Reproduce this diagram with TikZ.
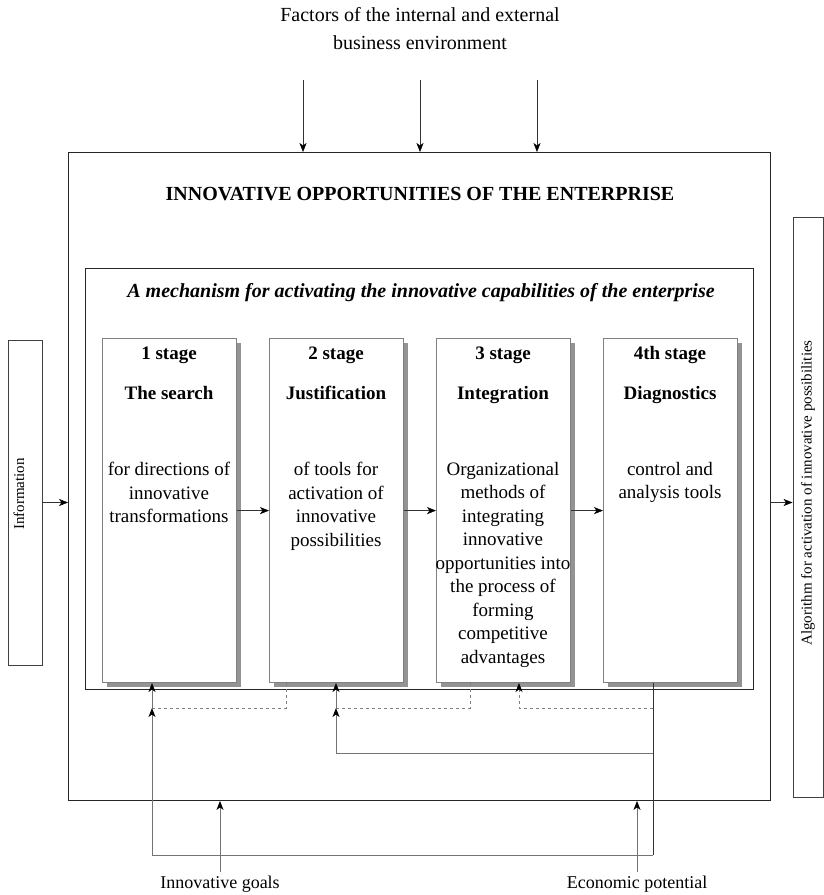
\documentclass[tikz,border=0pt]{standalone}
\usepackage{fontspec}
\setmainfont{Liberation Serif}
\usetikzlibrary{positioning,shadows,arrows.meta}

\begin{document}
\begin{tikzpicture}[x=1pt, y=-1pt, >={Stealth[length=9pt,width=7pt,inset=2.5pt,color=black]}, font=\fontsize{19}{23.5}\selectfont,
  frame/.style={draw=black!85, line width=0.9pt, inner sep=0pt},
  sidebox/.style={draw=black!75, line width=0.9pt, inner sep=0pt},
  stagebox/.style={draw=gray, fill=white, line width=1.2pt, minimum width=134pt, minimum height=344pt,
    anchor=north west, inner sep=0pt, drop shadow={shadow xshift=4.5pt, shadow yshift=-4.5pt, fill=gray!85, opacity=1}},
  link/.style={draw=gray!90!black, line width=1pt},
  feed/.style={draw=gray, dashed, line width=0.9pt}]

\useasboundingbox (0,0) rectangle (824,895);

\node[align=center, font=\fontsize{20}{28}\selectfont] (env) at (420,29) {Factors of the internal and external\\business environment};

\node[frame, minimum width=702pt, minimum height=648pt, anchor=north west] (outer) at (68,152) {};
\node[font=\fontsize{20}{24}\selectfont\bfseries, anchor=base] (title) at (420,200) {INNOVATIVE OPPORTUNITIES OF THE ENTERPRISE};

\foreach \i/\xx in {1/303,2/420,3/537}
  \coordinate (f\i) at (\xx,80);
\foreach \i in {1,2,3}
  \draw[->, black!80] (f\i) -- (f\i |- outer.north);

\node[frame, minimum width=668pt, minimum height=421pt, anchor=north west] (inner) at (85,268) {};
\node[font=\fontsize{20}{24}\selectfont\bfseries\itshape, anchor=base] (mech) at (421,297) {A mechanism for activating the innovative capabilities of the enterprise};

\foreach \i/\xx/\num/\head/\body in {
  1/102/1 stage/The search/{for directions of\\innovative\\transformations},
  2/269/2 stage/Justification/{of tools for\\activation of\\innovative\\possibilities},
  3/436/3 stage/Integration/{Organizational\\methods of\\integrating\\innovative\\opportunities into\\the process of\\forming\\competitive\\advantages},
  4/603/4th stage/Diagnostics/{control and\\analysis tools}}
{
  \node[stagebox] (s\i) at (\xx,338) {};
  \node[font=\fontsize{19}{23.5}\selectfont\bfseries, anchor=base] (n\i) at (\xx+67,359) {\num};
  \node[font=\fontsize{19}{23.5}\selectfont\bfseries, anchor=base] (h\i) at (\xx+67,399) {\head};
  \node[align=center, anchor=north, inner sep=0pt] (b\i) at (\xx+67,462) {\body};
}
\foreach \i/\j in {1/2,2/3,3/4}
  \draw[->, black!80] (s\i.east) -- (s\j.west);

% side boxes
\node[sidebox, minimum width=34pt, minimum height=325pt] (info) at (25,502.5) {};
\node[rotate=90, font=\fontsize{15}{18}\selectfont] (infotext) at (19,494) {Information};
\draw[->, black!80] (info.east) -- (info.east -| outer.west);

\node[sidebox, minimum width=30pt, minimum height=580pt] (algo) at (808,507) {};
\node[rotate=90, font=\fontsize{15}{18}\selectfont] (algotext) at (808,493) {Algorithm for activation of innovative possibilities};
\draw[->, black!80] (outer.east |- info.east) -- (info.east -| algo.west);

% feedback below the stages
\coordinate (a1) at (152,683);
\coordinate (a2) at (336,683);
\coordinate (a3) at (519,683);
\coordinate (d2) at (286,683);
\coordinate (d3) at (470,683);
\coordinate (d4) at (653,683);
\coordinate (m1) at (152,708);
\coordinate (m2) at (336,708);
\coordinate (m3) at (519,708);
\coordinate (k2) at (336,753);
\coordinate (k4) at (653,753);
\coordinate (e1) at (152,855);
\coordinate (e4) at (653,855);

\draw[feed] (d2) |- (m1);
\draw[feed] (d3) |- (m2);
\draw[feed, ->] (d4 |- m3) -- (m3) -- (a3);
\draw[link, ->] (m1) -- (a1);
\draw[link, ->] (m2) -- (a2);
\draw[black!80, line width=0.9pt] (d4) -- (e4);
\draw[link] (e4) -- (e1);
\draw[link, ->] (e1) -- (m1);
\draw[link, ->] (k4) -- (k2) -- (m2);

\node[font=\fontsize{18}{21}\selectfont] (goals) at (220,884) {Innovative goals};
\node[font=\fontsize{18}{21}\selectfont] (econ) at (637,884) {Economic potential};
\draw[link, ->] (goals.north) -- (goals.north |- outer.south);
\draw[link, ->] (econ.north) -- (econ.north |- outer.south);

\end{tikzpicture}
\end{document}
